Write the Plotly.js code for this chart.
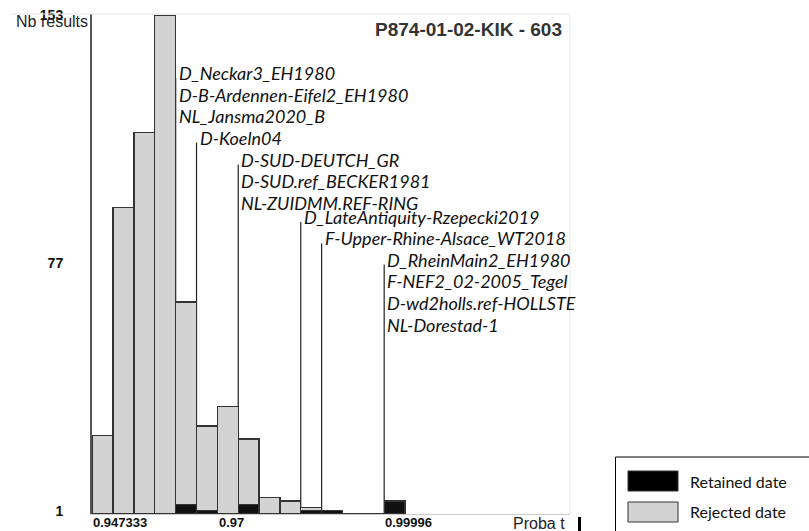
<!DOCTYPE html>
<html><head><meta charset="utf-8">
<script src="https://cdn.plot.ly/plotly-3.0.1.min.js"></script>
<style>html,body{margin:0;padding:0;background:#fff}#chart{width:809px;height:531px}</style>
</head><body><div id="chart"></div>
<script>
// ---------- data ----------
const binStarts = [0.947333,0.951092,0.954851,0.958610,0.962369,0.966128,0.969887,0.973646,0.977406,0.981165,0.984924,0.988683,0.992442,0.996201,0.999960];
const binWidth = 0.00375907;
const retained = [0,0,0,0,3,1,0,3,0,0,1,1,0,0,4];
const rejected = [24,94,117,153,62,26,33,20,5,4,1,0,0,0,0];
const seriesNames = ['Retained date','Rejected date'];
const xTickVals = [0.947333,0.97,0.99996];
const xTickText = ['0.947333','0.97','0.99996'];
const yTickVals = [1,77,153];
const yTickText = ['1','77','153'];
const labelBins = [4,5,7,10,11,14];
const labelNames = [
  ['D_Neckar3_EH1980','D-B-Ardennen-Eifel2_EH1980','NL_Jansma2020_B'],
  ['D-Koeln04'],
  ['D-SUD-DEUTCH_GR','D-SUD.ref_BECKER1981','NL-ZUIDMM.REF-RING'],
  ['D_LateAntiquity-Rzepecki2019'],
  ['F-Upper-Rhine-Alsace_WT2018'],
  ['D_RheinMain2_EH1980','F-NEF2_02-2005_Tegel','D-wd2holls.ref-HOLLSTE','NL-Dorestad-1']
];
const chartTitle = 'P874-01-02-KIK - 603';
const xAxisTitle = 'Proba t';
const yAxisTitle = 'Nb results';

// ---------- layout / style ----------
const W = 809, H = 531;
const M = {l:92, r:239, t:14, b:17};
const PW = W - M.l - M.r, PH = H - M.t - M.b;
const px2x = px => (px - M.l) / PW;
const px2y = py => (H - M.b - py) / PH;
const seriesColors = ['#111111','#d3d3d3'];
const edgeColor = '#333333';
const labelTopPx = [73, 137.5, 159.5, 217, 238.5, 259.5];
const lineGapPx = 21.7;
const arial = 'Liberation Sans, Arial, sans-serif';
const human = 'Lato, Noto Sans, sans-serif';

const traces = [retained, rejected].map((vals, i) => ({
  type: 'bar', x: binStarts, y: vals, width: binWidth, offset: 0,
  name: seriesNames[i],
  marker: {color: seriesColors[i], line: {color: edgeColor, width: 1.3}},
  hoverinfo: 'x+y+name', showlegend: false
}));

const shapes = [];
const annotations = [];

// faint frame top & right
shapes.push({type:'line', xref:'paper', yref:'paper', x0:px2x(10), x1:px2x(570), y0:px2y(14), y1:px2y(14), line:{color:'#e6e6e6', width:1}});
shapes.push({type:'line', xref:'paper', yref:'paper', x0:px2x(570), x1:px2x(570), y0:px2y(14), y1:px2y(514), line:{color:'#e6e6e6', width:1}});

// leader lines + site labels
labelBins.forEach((b, g) => {
  const xs = binStarts[b];
  shapes.push({type:'line', layer:'below', xref:'x', yref:'paper', x0:xs, x1:xs, y0:0, y1:px2y(labelTopPx[g] + 5), line:{color:'#222', width:1.2}});
  labelNames[g].forEach((name, k) => {
    annotations.push({xref:'x', yref:'paper', x:xs, y:px2y(labelTopPx[g] + k*lineGapPx), xanchor:'left', yanchor:'middle', xshift:1,
      text:name, showarrow:false, font:{family:human, size:18, style:'italic', color:'#111'}});
  });
});

// x tick labels (left-aligned at the bin edge, as in the reference)
xTickVals.forEach((v, i) => {
  annotations.push({xref:'x', yref:'paper', x:v, y:px2y(522.5), xanchor:'left', yanchor:'middle', xshift:-1,
    text:xTickText[i], showarrow:false, font:{family:arial, size:13, weight:'bold', color:'#111'}});
});

// axis titles
annotations.push({xref:'paper', yref:'paper', x:px2x(90), y:px2y(21), xanchor:'right', yanchor:'middle', text:yAxisTitle, showarrow:false, font:{family:arial, size:16, color:'#222'}});
annotations.push({xref:'paper', yref:'paper', x:px2x(567), y:px2y(523), xanchor:'right', yanchor:'middle', text:xAxisTitle, showarrow:false, font:{family:arial, size:16, color:'#222'}});
shapes.push({type:'rect', xref:'paper', yref:'paper', x0:px2x(578), x1:px2x(581), y0:px2y(531), y1:px2y(517), line:{width:0}, fillcolor:'#000'});

// legend box
shapes.push({type:'rect', xref:'paper', yref:'paper', x0:px2x(615.5), x1:px2x(812), y0:px2y(535), y1:px2y(457), line:{color:'#000', width:1}, fillcolor:'rgba(0,0,0,0)'});
const legTop = [471, 502];
const legText = [481.5, 511.5];
seriesNames.forEach((n, i) => {
  shapes.push({type:'rect', xref:'paper', yref:'paper', x0:px2x(628), x1:px2x(678), y0:px2y(legTop[i]+20), y1:px2y(legTop[i]), line:{color:edgeColor, width:1}, fillcolor: i===0 ? '#000' : seriesColors[i]});
  annotations.push({xref:'paper', yref:'paper', x:px2x(688), y:px2y(legText[i]), xanchor:'left', yanchor:'middle', text:n, showarrow:false, font:{family:human, size:16, color:'#111'}});
});

const layout = {
  width: W, height: H, margin: M,
  paper_bgcolor:'#fff', plot_bgcolor:'#fff',
  barmode:'stack', bargap:0, showlegend:false,
  title:{text:chartTitle, xref:'paper', x:px2x(562), xanchor:'right', yref:'container', y:1 - 29/H, yanchor:'middle',
    font:{family:arial, size:19, weight:'bold', color:'#333'}},
  xaxis:{range:[0.947283, 1.033462], tickvals:xTickVals, showticklabels:false, ticks:'',
    showgrid:false, zeroline:false, showline:true, linecolor:'#cccccc', linewidth:1},
  yaxis:{range:[0,153.4], tickvals:yTickVals, ticktext:yTickText, ticks:'outside', ticklen:24, tickcolor:'rgba(0,0,0,0)',
    showgrid:false, zeroline:false, showline:true, linecolor:'#555', linewidth:2,
    tickfont:{family:arial, size:14, weight:'bold', color:'#111'}},
  shapes, annotations
};
Plotly.newPlot('chart', traces, layout, {displayModeBar:false, staticPlot:true});
</script></body></html>
